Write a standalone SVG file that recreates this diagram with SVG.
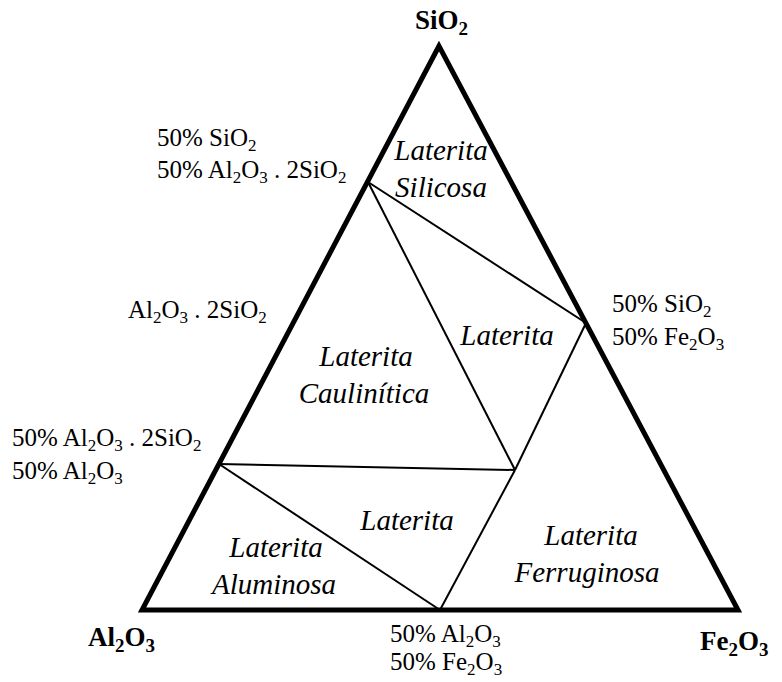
<svg xmlns="http://www.w3.org/2000/svg" width="782" height="682" viewBox="0 0 782 682">
<rect width="782" height="682" fill="#fff"/>
<g id="triangle">
<polygon points="439,46 142,610 738,610" fill="none" stroke="#000" stroke-width="5" stroke-linejoin="miter"/>
</g>
<g id="connectors" stroke="#000" stroke-width="2" fill="none">
<line x1="368" y1="182" x2="586" y2="323"/>
<line x1="368" y1="182" x2="515" y2="470"/>
<line x1="586" y1="323" x2="515" y2="470"/>
<line x1="219" y1="464" x2="515" y2="470"/>
<line x1="219" y1="464" x2="440" y2="610"/>
<line x1="515" y1="470" x2="440" y2="610"/>
</g>
<g id="vertex-sio2"><text font-family="Liberation Serif" font-size="27" font-weight="bold" x="415" y="29">SiO<tspan font-size="19" dy="6">2</tspan></text></g>
<g id="vertex-al2o3"><text font-family="Liberation Serif" font-size="27" font-weight="bold" x="88" y="646">Al<tspan font-size="19" dy="6">2</tspan><tspan dy="-6">O</tspan><tspan font-size="19" dy="6">3</tspan></text></g>
<g id="vertex-fe2o3"><text font-family="Liberation Serif" font-size="27" font-weight="bold" x="700" y="650">Fe<tspan font-size="19" dy="6">2</tspan><tspan dy="-6">O</tspan><tspan font-size="19" dy="6">3</tspan></text></g>
<g id="label-a">
<text font-family="Liberation Serif" font-size="25" x="157" y="146">50% SiO<tspan font-size="17" dy="5">2</tspan></text>
<text font-family="Liberation Serif" font-size="25" x="157" y="178">50% Al<tspan font-size="17" dy="5">2</tspan><tspan dy="-5">O</tspan><tspan font-size="17" dy="5">3</tspan><tspan dy="-5"> . 2SiO</tspan><tspan font-size="17" dy="5">2</tspan></text>
</g>
<g id="label-kaolinite"><text font-family="Liberation Serif" font-size="25" x="128" y="318">Al<tspan font-size="17" dy="5">2</tspan><tspan dy="-5">O</tspan><tspan font-size="17" dy="5">3</tspan><tspan dy="-5"> . 2SiO</tspan><tspan font-size="17" dy="5">2</tspan></text></g>
<g id="label-b">
<text font-family="Liberation Serif" font-size="25" x="612" y="312">50% SiO<tspan font-size="17" dy="5">2</tspan></text>
<text font-family="Liberation Serif" font-size="25" x="612" y="345">50% Fe<tspan font-size="17" dy="5">2</tspan><tspan dy="-5">O</tspan><tspan font-size="17" dy="5">3</tspan></text>
</g>
<g id="label-c">
<text font-family="Liberation Serif" font-size="25" x="12" y="446">50% Al<tspan font-size="17" dy="5">2</tspan><tspan dy="-5">O</tspan><tspan font-size="17" dy="5">3</tspan><tspan dy="-5"> . 2SiO</tspan><tspan font-size="17" dy="5">2</tspan></text>
<text font-family="Liberation Serif" font-size="25" x="12" y="479">50% Al<tspan font-size="17" dy="5">2</tspan><tspan dy="-5">O</tspan><tspan font-size="17" dy="5">3</tspan></text>
</g>
<g id="label-e">
<text font-family="Liberation Serif" font-size="25" x="390" y="642">50% Al<tspan font-size="17" dy="5">2</tspan><tspan dy="-5">O</tspan><tspan font-size="17" dy="5">3</tspan></text>
<text font-family="Liberation Serif" font-size="25" x="390" y="670">50% Fe<tspan font-size="17" dy="5">2</tspan><tspan dy="-5">O</tspan><tspan font-size="17" dy="5">3</tspan></text>
</g>
<g id="region-silicosa"><text font-family="Liberation Serif" font-size="29" font-style="italic" text-anchor="middle" x="441" y="160">Laterita</text><text font-family="Liberation Serif" font-size="29" font-style="italic" text-anchor="middle" x="441" y="197">Silicosa</text></g>
<g id="region-laterita-1"><text font-family="Liberation Serif" font-size="29" font-style="italic" text-anchor="middle" x="507" y="345">Laterita</text></g>
<g id="region-caulinitica"><text font-family="Liberation Serif" font-size="29" font-style="italic" text-anchor="middle" x="366" y="366">Laterita</text><text font-family="Liberation Serif" font-size="29" font-style="italic" text-anchor="middle" x="364" y="403">Caulinítica</text></g>
<g id="region-laterita-2"><text font-family="Liberation Serif" font-size="29" font-style="italic" text-anchor="middle" x="407" y="530">Laterita</text></g>
<g id="region-aluminosa"><text font-family="Liberation Serif" font-size="29" font-style="italic" text-anchor="middle" x="276" y="557">Laterita</text><text font-family="Liberation Serif" font-size="29" font-style="italic" text-anchor="middle" x="274" y="594">Aluminosa</text></g>
<g id="region-ferruginosa"><text font-family="Liberation Serif" font-size="29" font-style="italic" text-anchor="middle" x="591" y="545">Laterita</text><text font-family="Liberation Serif" font-size="29" font-style="italic" text-anchor="middle" x="587" y="582">Ferruginosa</text></g>
</svg>
